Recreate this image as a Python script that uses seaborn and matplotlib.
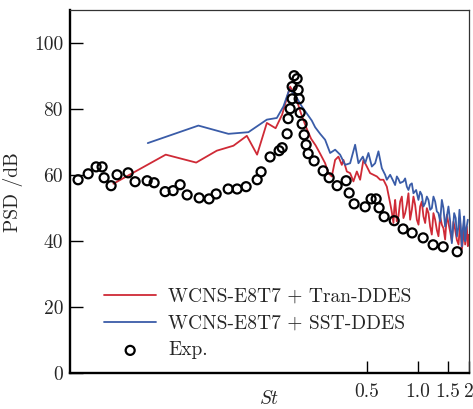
import matplotlib
matplotlib.use("Agg")
import matplotlib.pyplot as plt
import seaborn as sns
import pandas as pd

# ---------------- data ----------------
tran_st = [0.0162, 0.0329, 0.0497, 0.0657, 0.0823, 0.0987, 0.1134, 0.1294, 0.1457, 0.1591,
           0.1774, 0.1910, 0.2045, 0.2202, 0.2357, 0.2505, 0.2663, 0.2849, 0.2979, 0.3119,
           0.3262, 0.3411, 0.3572, 0.3651, 0.3823, 0.3997, 0.4180, 0.4377, 0.4576, 0.4786,
           0.5012, 0.5240, 0.5481, 0.5739, 0.6001, 0.6275, 0.6571,
           0.6873, 0.7020, 0.7186, 0.7270, 0.7355, 0.7520, 0.7690, 0.7870, 0.8052, 0.8230,
           0.8420, 0.8610, 0.8806, 0.9010, 0.9220, 0.9422, 0.9640, 0.9865, 1.0088, 1.0316,
           1.0550, 1.0788, 1.1040, 1.1296, 1.1550, 1.1814, 1.2080, 1.2353, 1.2640, 1.2935,
           1.3220, 1.3527, 1.3840, 1.4144, 1.4470, 1.4808, 1.5136, 1.5488, 1.5849, 1.6199,
           1.6574, 1.6961, 1.7350, 1.7736, 1.8148, 1.8545, 1.8724, 1.8976, 1.9421, 1.9679,
           1.9847]
tran_psd = [57.4, 66.2, 63.8, 67.4, 68.9, 71.9, 66.2, 75.8, 74.2, 78.3,
            86.8, 83.8, 79.0, 74.5, 71.0, 69.0, 66.5, 63.6, 60.6, 59.6,
            64.6, 65.6, 63.1, 64.6, 61.1, 60.6, 58.1, 61.1, 58.6, 64.6,
            62.6, 60.6, 60.1, 59.6, 58.6, 58.6, 56.5,
            51.5, 49.0, 45.5, 50.0, 52.5, 46.0, 47.5, 52.0, 53.5, 47.0,
            48.5, 51.0, 54.5, 46.5, 49.5, 53.5, 51.0, 46.5, 45.0, 50.5,
            52.0, 47.5, 45.5, 50.0, 48.5, 44.4, 42.0, 48.5, 46.5, 43.4,
            41.5, 47.5, 45.0, 43.9, 40.5, 48.0, 45.5, 42.9, 40.0, 45.9,
            43.5, 40.4, 39.0, 45.5, 37.5, 41.4, 45.0, 39.0, 44.4, 38.5,
            41.9]

sst_st = [0.0258, 0.0512, 0.0769, 0.1008, 0.1294, 0.1481, 0.1620, 0.1757, 0.1897, 0.2078,
          0.2379, 0.2489, 0.2663, 0.2849, 0.3049, 0.3262, 0.3490, 0.3736, 0.3997, 0.4277,
          0.4473, 0.4748, 0.4898, 0.5122, 0.5363, 0.5608, 0.5865, 0.6141, 0.6422, 0.6571,
          0.6873, 0.7186, 0.7350, 0.7525, 0.7690, 0.7868, 0.8228, 0.8420, 0.8615, 0.8806,
          0.9010, 0.9220, 0.9422, 0.9772, 1.0081, 1.0316, 1.0556, 1.0788, 1.1039, 1.1296,
          1.1544, 1.1814, 1.2086, 1.2353, 1.2641, 1.2935, 1.3219, 1.3527, 1.3841, 1.4144,
          1.4473, 1.4808, 1.5136, 1.5488, 1.5849, 1.6100, 1.6353, 1.6700, 1.6961, 1.7300,
          1.7571, 1.7850, 1.8148, 1.8420, 1.8724, 1.9000, 1.9238, 1.9679]
sst_psd = [69.7, 75.0, 72.5, 73.0, 76.8, 77.3, 80.8, 86.0, 84.3, 80.8,
           76.5, 74.5, 72.5, 70.7, 66.7, 67.7, 66.2, 63.1, 63.6, 69.2,
           63.6, 65.6, 63.6, 66.7, 62.6, 63.6, 67.2, 62.1, 60.1, 58.6,
           60.1, 58.1, 57.0, 59.6, 58.8, 57.6, 58.1, 59.0, 56.5, 55.5,
           57.1, 57.5, 54.5, 55.5, 52.5, 55.0, 54.0, 50.5, 51.5, 53.5,
           52.5, 49.5, 50.0, 53.5, 52.0, 49.0, 48.5, 46.0, 52.5, 50.0,
           44.4, 47.5, 50.5, 46.0, 39.4, 44.0, 48.5, 47.0, 41.4, 44.0,
           49.5, 45.0, 38.4, 44.0, 47.5, 40.0, 43.4, 46.5]

exp_st = [0.01004, 0.01151, 0.01282, 0.01390, 0.01428, 0.01570, 0.01703, 0.01977, 0.02173, 0.02558,
          0.02812, 0.03262, 0.03637, 0.03998, 0.04396, 0.05176, 0.05916, 0.06516, 0.07664, 0.08650,
          0.09772, 0.1135, 0.1197, 0.1352, 0.1528, 0.1592, 0.1703, 0.1726, 0.1774, 0.1823,
          0.1823, 0.1872, 0.1950, 0.1977, 0.2004, 0.2031, 0.2086, 0.2144, 0.2203, 0.2264,
          0.2455, 0.2774, 0.3008, 0.3352, 0.3786, 0.3944, 0.4219, 0.4898, 0.5309, 0.5685,
          0.5916, 0.6335, 0.7261, 0.8194, 0.9257, 1.0745, 1.230, 1.409, 1.704]
exp_psd = [58.6, 60.4, 62.5, 62.5, 59.2, 56.8, 60.1, 60.7, 58.0, 58.3,
           57.7, 55.0, 55.3, 57.1, 54.0, 53.1, 52.8, 54.3, 55.8, 55.8,
           56.5, 58.6, 61.0, 65.5, 67.4, 68.3, 72.5, 77.1, 80.1, 83.1,
           86.8, 90.1, 89.2, 85.8, 83.1, 78.9, 75.5, 72.2, 69.2, 66.5,
           64.3, 61.3, 59.2, 56.8, 58.3, 54.6, 51.3, 50.4, 52.8, 52.8,
           50.1, 47.4, 46.2, 43.7, 42.5, 41.0, 38.9, 38.3, 36.8]

labels = ["WCNS-E8T7 + Tran-DDES", "WCNS-E8T7 + SST-DDES", "Exp."]
x_ticks = [0.5, 1.0, 1.5, 2.0]
x_ticklabels = ["0.5", "1.0", "1.5", "2"]
y_ticks = [0, 20, 40, 60, 80, 100]

# ---------------- style ----------------
sns.set_style("ticks")
plt.rcParams["font.family"] = ["cmr10", "DejaVu Serif"]
plt.rcParams["mathtext.fontset"] = "cm"
plt.rcParams["axes.unicode_minus"] = False
plt.rcParams["axes.formatter.use_mathtext"] = True

red = "#cf2a36"
blue = "#3a5ca8"

fig = plt.figure(figsize=(4.73, 4.09), dpi=100)
ax = fig.add_axes([0.148, 0.0873, 0.8436, 0.8883])

df_t = pd.DataFrame({"St": tran_st, "PSD": tran_psd})
df_s = pd.DataFrame({"St": sst_st, "PSD": sst_psd})
df_e = pd.DataFrame({"St": exp_st, "PSD": exp_psd})

sns.lineplot(data=df_t, x="St", y="PSD", color=red, lw=1.3, ax=ax, label=labels[0], sort=False)
sns.lineplot(data=df_s, x="St", y="PSD", color=blue, lw=1.3, ax=ax, label=labels[1], sort=False)
sns.scatterplot(data=df_e, x="St", y="PSD", marker="o", s=42, facecolor="none",
                edgecolor="black", linewidth=1.6, ax=ax, label=labels[2], zorder=3)

ax.set_xscale("log")
ax.set_xlim(0.009, 2.0)
ax.set_ylim(0, 110)
ax.set_xticks(x_ticks)
ax.set_xticklabels(x_ticklabels)
ax.xaxis.set_minor_locator(matplotlib.ticker.NullLocator())
ax.set_yticks(y_ticks)
ax.set_yticklabels([str(v) for v in y_ticks])

ax.tick_params(axis="both", direction="in", length=9, width=1.0, labelsize=14, color="black")
ax.tick_params(axis="x", pad=7)
ax.tick_params(axis="y", pad=5)

for side in ["left", "bottom"]:
    ax.spines[side].set_linewidth(1.7)
    ax.spines[side].set_color("black")
for side in ["top", "right"]:
    ax.spines[side].set_visible(True)
    ax.spines[side].set_linewidth(0.9)
    ax.spines[side].set_color("#333333")

ax.set_xlabel(r"$St$", fontsize=14, labelpad=-8)
ax.set_ylabel("PSD /dB", fontsize=14, labelpad=8)

leg = ax.legend(loc="lower left", bbox_to_anchor=(0.085, 0.038), frameon=False,
                fontsize=14, handlelength=2.7, handletextpad=0.6, labelspacing=0.45,
                borderpad=0, borderaxespad=0)

fig.savefig("out.png", dpi=100)
